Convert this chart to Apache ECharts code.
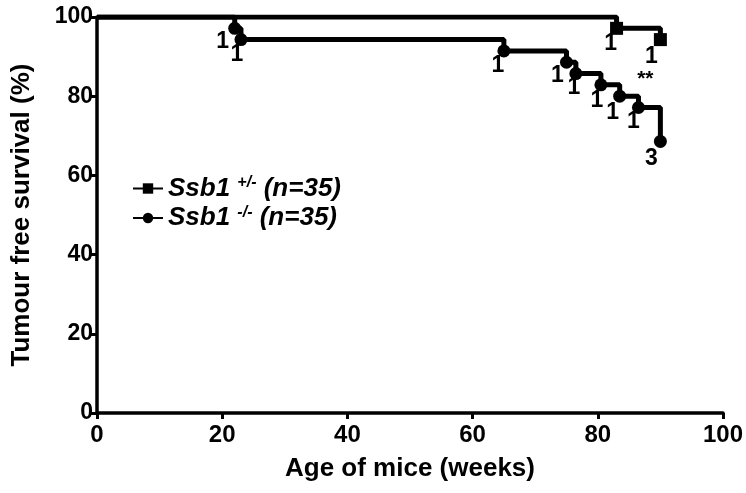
<!DOCTYPE html>
<html><head><meta charset="utf-8">
<script src="https://cdn.jsdelivr.net/npm/echarts@6/dist/echarts.min.js"></script>
<style>html,body{margin:0;padding:0;background:#fff}#c{width:746px;height:493px}</style>
</head><body><div id="c"></div>
<script>
// Data
const hetWeeks = [0, 83, 90];
const hetSurvival = [100, 97.14, 94.29];
const hetLabels = ['', '1', '1'];
const koWeeks = [0, 22, 23, 65, 75, 76.5, 80.5, 83.5, 86.5, 90];
const koSurvival = [100, 97.14, 94.29, 91.43, 88.57, 85.71, 82.86, 80.0, 77.14, 68.57];
const koLabels = ['', '1', '1', '1', '1', '1', '1', '1', '1', '3'];
const xTicks = [0, 20, 40, 60, 80, 100];
const yTicks = [0, 20, 40, 60, 80, 100];

const FONT = '"Liberation Sans", Arial, sans-serif';

function build(weeks, surv, labels, offsets) {
  return weeks.map((w, i) => {
    const item = { value: [w, surv[i]] };
    if (i === 0) { item.symbol = 'none'; item.label = { show: false }; }
    else {
      item.label = { show: true, formatter: labels[i], offset: (offsets && offsets[i]) || [-6, 15] };
    }
    return item;
  });
}

const labelStyle = { position: 'inside', color: '#000', fontFamily: FONT, fontWeight: 'bold', fontSize: 23 };

const chart = echarts.init(document.getElementById('c'), null, { renderer: 'canvas' });
const option = {
  animation: false,
  backgroundColor: '#fff',
  grid: { left: 97, right: 20, top: 17, bottom: 80 },
  legend: {
    left: 127, top: 170, orient: 'vertical', itemGap: 3, itemWidth: 30, itemHeight: 13,
    data: ['het', 'ko'],
    formatter: function (n) {
      return n === 'het' ? '{it|Ssb1 }{sup|+/-}{it| (n=35)}' : '{it|Ssb1 }{sup|-/-}{it| (n=35)}';
    },
    textStyle: {
      color: '#000',
      rich: {
        it: { fontFamily: FONT, fontStyle: 'italic', fontWeight: 'bold', fontSize: 26, color: '#000', height: 27 },
        sup: { fontFamily: FONT, fontStyle: 'italic', fontWeight: 'bold', fontSize: 16, color: '#000', verticalAlign: 'top', padding: [0, 0, 10, 0] }
      }
    }
  },
  xAxis: {
    type: 'value', min: 0, max: 100, interval: 20,
    name: 'Age of mice (weeks)', nameLocation: 'middle', nameGap: 43,
    nameTextStyle: { fontFamily: FONT, fontWeight: 'bold', fontSize: 26, color: '#000' },
    axisLine: { lineStyle: { color: '#000', width: 3.5 } },
    axisTick: { length: 6, lineStyle: { color: '#000', width: 3 } },
    axisLabel: { fontFamily: FONT, fontWeight: 'bold', fontSize: 24, color: '#000', margin: 10,
      formatter: v => xTicks.includes(v) ? String(v) : '' },
    splitLine: { show: false }
  },
  yAxis: {
    type: 'value', min: 0, max: 100, interval: 20,
    name: 'Tumour free survival (%)', nameLocation: 'middle', nameGap: 62,
    nameTextStyle: { fontFamily: FONT, fontWeight: 'bold', fontSize: 26, color: '#000' },
    axisLine: { show: true, lineStyle: { color: '#000', width: 3.5 } },
    axisTick: { show: true, length: 7, lineStyle: { color: '#000', width: 3 } },
    axisLabel: { fontFamily: FONT, fontWeight: 'bold', fontSize: 23, color: '#000', margin: 4,
      formatter: v => yTicks.includes(v) ? String(v) : '' },
    splitLine: { show: false }
  },
  series: [
    {
      name: 'het', type: 'line', step: 'end', symbol: 'rect', symbolSize: 13,
      showSymbol: true,
      lineStyle: { color: '#000', width: 5 }, itemStyle: { color: '#000' },
      label: labelStyle,
      data: build(hetWeeks, hetSurvival, hetLabels, { 1: [-6, 15], 2: [-9, 17] })
    },
    {
      name: 'ko', type: 'line', step: 'end', symbol: 'circle', symbolSize: 13,
      showSymbol: true,
      lineStyle: { color: '#000', width: 5 }, itemStyle: { color: '#000' },
      label: labelStyle,
      data: build(koWeeks, koSurvival, koLabels, {
        1: [-12, 13], 2: [-4, 15], 3: [-6, 15], 4: [-9, 13], 5: [-2, 14],
        6: [-4, 16], 7: [-7, 16], 8: [-5, 14], 9: [-9, 17]
      })
    }
  ]
};
chart.setOption(option);
const p = chart.convertToPixel({ gridIndex: 0 }, [87.6, 84.2]);
chart.setOption({
  graphic: [{ type: 'text', x: p[0], y: p[1], style: { text: '**', fill: '#000', font: 'bold 21px ' + FONT, textAlign: 'center', textVerticalAlign: 'middle' } }]
});
</script>
</body></html>
